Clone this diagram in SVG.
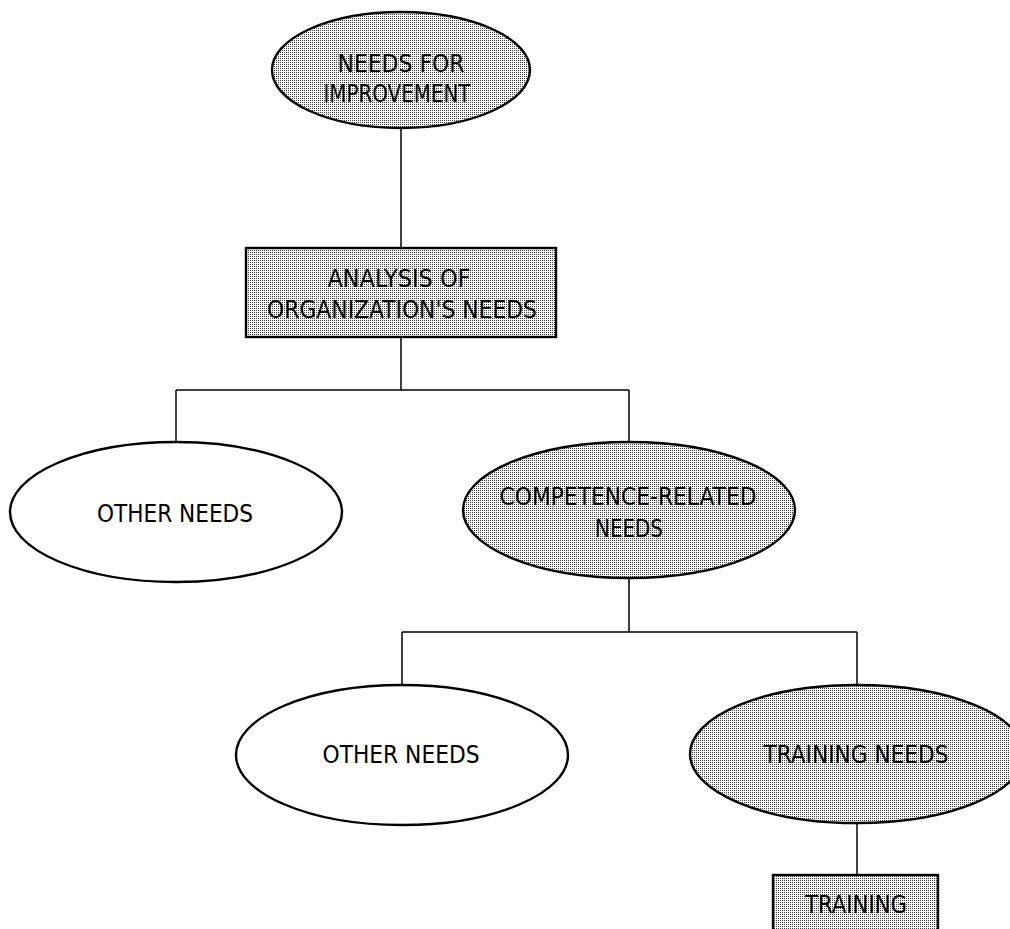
<svg xmlns="http://www.w3.org/2000/svg" width="1010" height="929" viewBox="0 0 1010 929">
<defs>
<pattern id="dots" width="2" height="2" patternUnits="userSpaceOnUse">
<rect width="2" height="2" fill="#ffffff"/>
<rect width="1" height="1" fill="#3a3a3a"/>
</pattern>
</defs>
<style>
.shaded{fill:url(#dots);stroke:#000;stroke-width:2.4}
.plain{fill:#fff;stroke:#000;stroke-width:2.4}
.conn{fill:none;stroke:#000;stroke-width:1.5}
text{font-family:"DejaVu Sans Condensed","DejaVu Sans",sans-serif;font-size:25px;fill:#000;text-anchor:middle}
</style>
<rect width="1010" height="929" fill="#fff"/>
<g id="connectors">
<path class="conn" d="M401 128V248"/>
<path class="conn" d="M401 337V390M176 390H629M176 390V443M629 390V442"/>
<path class="conn" d="M629 578V632M402 632H857M402 632V686M857 632V686"/>
<path class="conn" d="M857 823V875"/>
</g>
<g id="needs-improvement">
<ellipse class="shaded" cx="401" cy="70" rx="129" ry="58"/>
<text x="401" y="72" textLength="127" lengthAdjust="spacingAndGlyphs">NEEDS FOR</text>
<text x="397" y="102" textLength="147" lengthAdjust="spacingAndGlyphs">IMPROVEMENT</text>
</g>
<g id="analysis">
<rect class="shaded" x="246" y="248" width="310" height="89"/>
<text x="399" y="287" textLength="143" lengthAdjust="spacingAndGlyphs">ANALYSIS OF</text>
<text x="402" y="318" textLength="270" lengthAdjust="spacingAndGlyphs">ORGANIZATION'S NEEDS</text>
</g>
<g id="other-needs-1">
<ellipse class="plain" cx="176" cy="512" rx="166" ry="70"/>
<text x="175" y="522" textLength="156" lengthAdjust="spacingAndGlyphs">OTHER NEEDS</text>
</g>
<g id="competence">
<ellipse class="shaded" cx="629" cy="510" rx="166" ry="68"/>
<text x="628" y="505" textLength="257" lengthAdjust="spacingAndGlyphs">COMPETENCE-RELATED</text>
<text x="629" y="537" textLength="68" lengthAdjust="spacingAndGlyphs">NEEDS</text>
</g>
<g id="other-needs-2">
<ellipse class="plain" cx="402" cy="755" rx="166" ry="70"/>
<text x="401" y="763" textLength="157" lengthAdjust="spacingAndGlyphs">OTHER NEEDS</text>
</g>
<g id="training-needs">
<ellipse class="shaded" cx="857" cy="754" rx="167" ry="69"/>
<text x="856" y="763" textLength="185" lengthAdjust="spacingAndGlyphs">TRAINING NEEDS</text>
</g>
<g id="training">
<rect class="shaded" x="773" y="875" width="165" height="70"/>
<text x="856" y="913" textLength="102" lengthAdjust="spacingAndGlyphs">TRAINING</text>
</g>
</svg>
